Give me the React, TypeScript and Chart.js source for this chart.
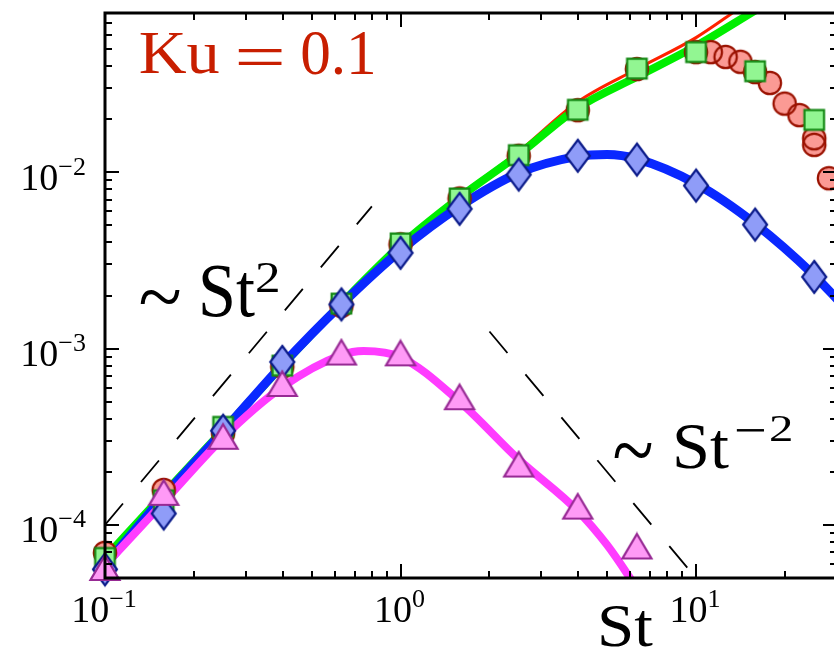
import React, { useEffect, useRef } from "react";
import { Chart, registerables } from "chart.js";

Chart.register(...registerables);

// ---------- data ----------
const stGrid = [0.1, 0.158, 0.251, 0.398, 0.631, 1.0, 1.585, 2.512, 3.981, 6.31, 10, 15.85, 25.12];

const circleX = [0.1, 0.158, 0.251, 0.398, 0.631, 1.0, 1.585, 2.512, 3.981, 6.31, 10, 11.22, 12.59, 14.13, 15.85, 17.78, 19.95, 22.39, 25.12, 25.12, 28.18];
const circleY = [6.95e-5, 1.58e-4, 3.3e-4, 7.9e-4, 1.75e-3, 3.9e-3, 7.1e-3, 0.0124, 0.0225, 0.0385, 0.048, 0.048, 0.0451, 0.0423, 0.037, 0.0321, 0.0245, 0.0211, 0.0156, 0.0143, 0.00925];

const squareY = [6.5e-5, 1.38e-4, 3.6e-4, 8.0e-4, 1.8e-3, 3.95e-3, 7.1e-3, 0.0125, 0.0226, 0.0387, 0.048, 0.0374, 0.0198];
const diamondY = [5.6e-5, 1.16e-4, 3.42e-4, 8.4e-4, 1.78e-3, 3.49e-3, 6.2e-3, 9.7e-3, 0.0124, 0.0118, 8.4e-3, 5.05e-3, 2.55e-3];

const triangleX = [0.1, 0.158, 0.251, 0.398, 0.631, 1.0, 1.585, 2.512, 3.981, 6.31];
const triangleY = [5.7e-5, 1.52e-4, 3.16e-4, 6.3e-4, 9.5e-4, 9.4e-4, 5.3e-4, 2.2e-4, 1.27e-4, 7.55e-5];

const redLineX = [0.1, 0.158, 0.251, 0.398, 0.631, 1.0, 1.585, 2.512, 3.981, 6.31, 10, 14];
const redLineY = [6.5e-5, 1.5e-4, 3.4e-4, 7.9e-4, 1.8e-3, 3.9e-3, 7.4e-3, 0.0131, 0.0251, 0.0385, 0.058, 0.085];

const greenLineX = [0.1, 0.158, 0.251, 0.398, 0.631, 1.0, 1.585, 2.512, 3.981, 6.31, 10, 16];
const greenLineY = [6.5e-5, 1.5e-4, 3.45e-4, 8.0e-4, 1.8e-3, 3.85e-3, 7.2e-3, 0.0126, 0.0232, 0.0348, 0.052, 0.0835];

const blueLineX = [0.1, 0.158, 0.251, 0.398, 0.631, 1.0, 1.585, 2.512, 3.981, 5.0, 6.31, 10, 15.85, 25.12, 31];
const blueLineY = [5.9e-5, 1.45e-4, 3.4e-4, 8.1e-4, 1.78e-3, 3.6e-3, 6.4e-3, 9.9e-3, 0.0123, 0.0126, 0.0119, 0.0086, 0.0051, 0.0026, 0.0018];

const magLineX = [0.1, 0.158, 0.251, 0.398, 0.631, 0.75, 1.0, 1.585, 2.512, 3.981, 5.0, 6.3];
const magLineY = [5.9e-5, 1.35e-4, 3.12e-4, 6.05e-4, 9.2e-4, 9.7e-4, 8.95e-4, 5.0e-4, 2.35e-4, 1.2e-4, 7.7e-5, 4.4e-5];

const slopeUpX = [0.1, 0.8];
const slopeUpY = [1e-4, 6.4e-3];
const slopeDownX = [2, 10];
const slopeDownY = [1.25e-3, 5e-5];

const xTickExps = [-1, 0, 1];
const yTickExps = [-4, -3, -2];

const X_MIN = 0.1, X_MAX = 30, Y_MIN = 5e-5, Y_MAX = 0.08;

const SERIF = '"Liberation Serif", "Times New Roman", serif';
const KU_COLOR = "#c81e00";

// annotation text with target ink boxes [x0, x1, y0, y1]
const annotations: { text: string; font: string; color: string; box: number[] }[] = [
  { text: "Ku", font: SERIF, color: KU_COLOR, box: [140, 219, 33, 74] },
  { text: "=", font: SERIF, color: KU_COLOR, box: [238, 282, 49, 65] },
  { text: "0.1", font: SERIF, color: KU_COLOR, box: [302, 373, 32, 75] },
  { text: "~", font: SERIF, color: "#000", box: [140, 180, 290, 304] },
  { text: "St", font: SERIF, color: "#000", box: [202, 255, 266, 318] },
  { text: "2", font: SERIF, color: "#000", box: [257, 278, 263, 292] },
  { text: "~", font: SERIF, color: "#000", box: [614, 652, 444, 459] },
  { text: "St", font: SERIF, color: "#000", box: [676, 729, 424, 469] },
  { text: "\u2212", font: SERIF, color: "#000", box: [736, 764, 429, 432] },
  { text: "2", font: SERIF, color: "#000", box: [771, 791, 416, 441] },
  { text: "St", font: SERIF, color: "#000", box: [601, 653, 605, 647] },
];

function pts(xs: number[], ys: number[]) {
  return xs.map((x, i) => ({ x, y: ys[i] }));
}

function makeMarker(kind: string, fill: string | null, stroke: string | null, lw: number) {
  const c = document.createElement("canvas");
  const dims: Record<string, [number, number]> = {
    circle: [28, 28],
    square: [25, 25],
    diamond: [30, 38],
    triangle: [34, 30],
  };
  const [w, h] = dims[kind];
  c.width = w;
  c.height = h;
  const g = c.getContext("2d")!;
  g.beginPath();
  const cx = w / 2, cy = h / 2;
  if (kind === "circle") {
    g.arc(cx, cy, 11.2, 0, Math.PI * 2);
  } else if (kind === "square") {
    g.rect(cx - 9.8, cy - 9.8, 19.6, 19.6);
  } else if (kind === "diamond") {
    g.moveTo(cx, cy - 16);
    g.lineTo(cx + 12, cy);
    g.lineTo(cx, cy + 16);
    g.lineTo(cx - 12, cy);
  } else {
    g.moveTo(cx, cy - 12.5);
    g.lineTo(cx + 14.5, cy + 12);
    g.lineTo(cx - 14.5, cy + 12);
  }
  g.closePath();
  if (fill) {
    g.fillStyle = fill;
    g.fill();
  }
  if (stroke) {
    g.lineJoin = "miter";
    g.lineWidth = lw;
    g.strokeStyle = stroke;
    g.stroke();
  }
  return c;
}

function logTicks(min: number, max: number) {
  const out: { v: number; major: boolean }[] = [];
  for (let e = Math.floor(Math.log10(min)); e <= Math.ceil(Math.log10(max)); e++) {
    for (let m = 1; m <= 9; m++) {
      const v = m * Math.pow(10, e);
      if (v >= min * 0.9999 && v <= max * 1.0001) out.push({ v, major: m === 1 });
    }
  }
  return out;
}

function fitText(ctx: CanvasRenderingContext2D, text: string, font: string, color: string, box: number[]) {
  const [x0, x1, y0, y1] = box;
  ctx.save();
  ctx.font = `100px ${font}`;
  ctx.textAlign = "left";
  ctx.textBaseline = "alphabetic";
  const m = ctx.measureText(text);
  const inkL = -m.actualBoundingBoxLeft;
  const inkR = m.actualBoundingBoxRight;
  const inkT = -m.actualBoundingBoxAscent;
  const inkB = m.actualBoundingBoxDescent;
  const sx = (x1 - x0) / Math.max(1e-6, inkR - inkL);
  const sy = (y1 - y0) / Math.max(1e-6, inkB - inkT);
  ctx.translate(x0 - inkL * sx, y0 - inkT * sy);
  ctx.scale(sx, sy);
  ctx.fillStyle = color;
  ctx.fillText(text, 0, 0);
  ctx.restore();
}

function drawPow(ctx: CanvasRenderingContext2D, exp: number, anchorX: number, baseY: number, align: "center" | "right") {
  const baseFont = `38px ${SERIF}`;
  const expFont = `26px ${SERIF}`;
  const es = exp < 0 ? "\u2212" + String(-exp) : String(exp);
  ctx.font = baseFont;
  const wb = ctx.measureText("10").width;
  ctx.font = expFont;
  const we = ctx.measureText(es).width;
  const total = wb + we;
  const x0 = align === "center" ? anchorX - total / 2 : anchorX - total;
  ctx.fillStyle = "#000";
  ctx.textAlign = "left";
  ctx.textBaseline = "alphabetic";
  ctx.font = baseFont;
  ctx.fillText("10", x0, baseY);
  ctx.font = expFont;
  ctx.fillText(es, x0 + wb, baseY - 15);
}

const framePlugin = {
  id: "frameAndText",
  afterDatasetsDraw(chart: any) {
    const { ctx, chartArea: ca, scales } = chart;
    const xs = scales.x, ys = scales.y;
    ctx.save();
    ctx.strokeStyle = "#000";
    ctx.lineWidth = 2;
    ctx.lineCap = "butt";
    ctx.beginPath();
    for (const t of logTicks(xs.min, xs.max)) {
      const px = Math.round(xs.getPixelForValue(t.v));
      const len = t.major ? 14 : 7;
      ctx.moveTo(px, ca.bottom);
      ctx.lineTo(px, ca.bottom - len);
      ctx.moveTo(px, ca.top);
      ctx.lineTo(px, ca.top + len);
    }
    for (const t of logTicks(ys.min, ys.max)) {
      const py = Math.round(ys.getPixelForValue(t.v));
      const len = t.major ? 14 : 7;
      ctx.moveTo(ca.left, py);
      ctx.lineTo(ca.left + len, py);
      ctx.moveTo(ca.right, py);
      ctx.lineTo(ca.right - len, py);
    }
    ctx.stroke();
    ctx.lineWidth = 3;
    ctx.strokeRect(ca.left, ca.top, ca.right - ca.left, ca.bottom - ca.top);
    ctx.restore();
  },
  afterDraw(chart: any) {
    const { ctx, chartArea: ca, scales } = chart;
    ctx.save();
    for (const e of xTickExps) {
      drawPow(ctx, e, scales.x.getPixelForValue(Math.pow(10, e)) - 1, ca.bottom + 44, "center");
    }
    for (const e of yTickExps) {
      const py = scales.y.getPixelForValue(Math.pow(10, e));
      drawPow(ctx, e, ca.left - 19, py + 17.5, "right");
    }
    for (const a of annotations) fitText(ctx, a.text, a.font, a.color, a.box);
    ctx.restore();
  },
};

export default function App() {
  const ref = useRef<HTMLCanvasElement | null>(null);

  useEffect(() => {
    if (!ref.current) return;
    const circleFill = makeMarker("circle", "#fb9a94", null, 0);
    const circleEdge = makeMarker("circle", null, "#9a1200", 2.2);
    const square = makeMarker("square", "#92f692", "#168a16", 2.2);
    const diamond = makeMarker("diamond", "#8f9cf8", "#0b1b8a", 2.2);
    const triangle = makeMarker("triangle", "#ff9af6", "#972a94", 2.2);

    const lineDs = (label: string, xs: number[], ys: number[], color: string, width: number, order: number, dash: number[] = []) => ({
      label,
      data: pts(xs, ys),
      showLine: true,
      borderColor: color,
      backgroundColor: color,
      borderWidth: width,
      borderDash: dash,
      borderCapStyle: "butt",
      borderJoinStyle: "round",
      pointRadius: 0,
      cubicInterpolationMode: dash.length ? "default" : "monotone",
      tension: 0,
      fill: false,
      clip: 0,
      order,
    });
    const markerDs = (label: string, xs: number[], ys: number[], style: HTMLCanvasElement, order: number) => ({
      label,
      data: pts(xs, ys),
      showLine: false,
      pointStyle: style,
      pointRadius: 12,
      clip: false,
      order,
    });

    const chart = new Chart(ref.current, {
      type: "scatter",
      data: {
        datasets: [
          lineDs("~St^2", slopeUpX, slopeUpY, "#000", 1.8, 21, [28, 28]),
          lineDs("~St^-2", slopeDownX, slopeDownY, "#000", 1.8, 20, [28, 28]),
          lineDs("red model", redLineX, redLineY, "#ff2200", 3, 19),
          lineDs("green model", greenLineX, greenLineY, "#00ee00", 8, 18),
          lineDs("blue model", blueLineX, blueLineY, "#0a28ff", 9, 17),
          lineDs("magenta model", magLineX, magLineY, "#ff3cff", 8, 16),
          markerDs("circles fill", circleX, circleY, circleFill, 10),
          markerDs("circles edge", circleX, circleY, circleEdge, 9),
          markerDs("squares", stGrid, squareY, square, 8),
          markerDs("diamonds", stGrid, diamondY, diamond, 7),
          markerDs("triangles", triangleX, triangleY, triangle, 6),
        ] as any,
      },
      options: {
        responsive: false,
        devicePixelRatio: 1,
        animation: false,
        events: [],
        layout: { padding: { left: 105, top: 11, right: 11, bottom: 76 } },
        scales: {
          x: { type: "logarithmic", min: X_MIN, max: X_MAX, display: false },
          y: { type: "logarithmic", min: Y_MIN, max: Y_MAX, display: false },
        },
        plugins: { legend: { display: false }, tooltip: { enabled: false } },
      },
      plugins: [framePlugin],
    });
    return () => chart.destroy();
  }, []);

  return (
    <div
      style={{
        position: "fixed",
        left: 0,
        top: 0,
        width: 834,
        height: 654,
        overflow: "hidden",
        background: "#fff",
      }}
    >
      <canvas ref={ref} width={850} height={654} style={{ display: "block" }} />
    </div>
  );
}
